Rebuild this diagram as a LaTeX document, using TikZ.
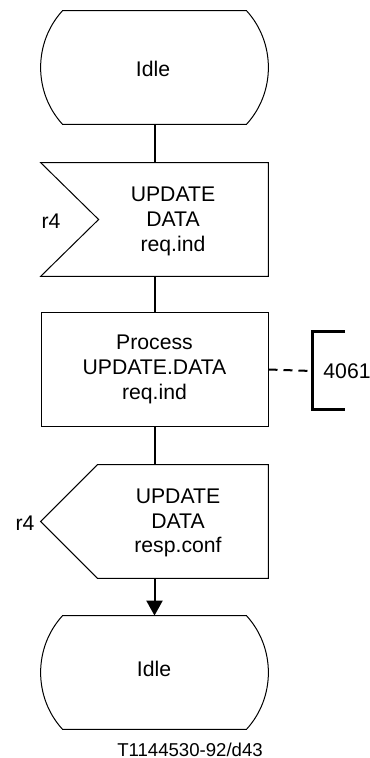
\documentclass[tikz,border=0pt]{standalone}
\usepackage{fontspec}
\setmainfont{Liberation Sans}
\usetikzlibrary{calc,arrows.meta}

\begin{document}
\begin{tikzpicture}[
x=0.5pt,y=-0.5pt,
every node/.style={font=\fontsize{10.6}{12.3}\selectfont},
txt/.style={align=center,inner sep=0pt},
shapebox/.style={minimum width=113.5pt,minimum height=56.5pt,inner sep=0pt},
outline/.style={line width=0.5pt},
conn/.style={line width=1pt},
arrow/.style={conn,-{Triangle[length=7.5pt,width=8pt]}} ]

\useasboundingbox (0,0) rectangle (369,758);

\node[shapebox] (idleA) at (154.5,67.5) {};
\node[txt] at (153,69) {Idle};

\node[shapebox] (in1) at (154.5,219.5) {};
\node[txt] (inTxt) at (173,221.5) {UPDATE\\DATA\\req.ind};
\node[txt] (inSig) at (51,221) {r4};

\node[shapebox,draw,outline,align=center] (proc) at (154.5,369.5) {Process\\UPDATE.DATA\\req.ind};

\node[shapebox] (out1) at (154.5,521.5) {};
\node[txt] (outTxt) at (178,523) {UPDATE\\DATA\\resp.conf};
\node[txt] (outSig) at (25,523) {r4};

\node[shapebox] (idleB) at (154.5,672.5) {};
\node[txt] at (154,669) {Idle};

\coordinate (brk) at (312,371);
\node[txt] (ref) at (347,371) {4061};
\node[txt] (caption) at (190,750) {\fontsize{9.3}{11}\selectfont T1144530-92/d43};

% state symbols
\foreach \s in {idleA,idleB}
  \draw[outline] ($(\s.north west)+(22,0)$) -- ($(\s.north east)+(-22,0)$)
    .. controls ($(\s.north east)+(7.3,31.9)$) and ($(\s.south east)+(7.3,-31.9)$) .. ($(\s.south east)+(-22,0)$)
    -- ($(\s.south west)+(22,0)$)
    .. controls ($(\s.south west)+(-7.3,-31.9)$) and ($(\s.north west)+(-7.3,31.9)$) .. cycle;

% input and output signals
\draw[outline] (in1.north west) -- (in1.north east) -- (in1.south east) -- (in1.south west) -- ($(in1.west)+(58,0)$) -- cycle;
\draw[outline] ($(out1.north west)+(57,0)$) -- (out1.north east) -- (out1.south east) -- ($(out1.south west)+(57,0)$) -- (out1.west) -- cycle;

\draw[conn] (idleA) -- (in1);
\draw[conn] (in1) -- (proc);
\draw[conn] (proc) -- (out1);
\draw[arrow] (out1) -- (idleB);

% comment bracket
\draw[conn,dash pattern=on 4.5pt off 3pt] (proc.east) -- (brk);
\draw[line width=1.5pt] ($(brk)+(33,-39)$) -- ($(brk)+(0,-39)$) -- ($(brk)+(0,38)$) -- ($(brk)+(33,38)$);

\end{tikzpicture}
\end{document}
